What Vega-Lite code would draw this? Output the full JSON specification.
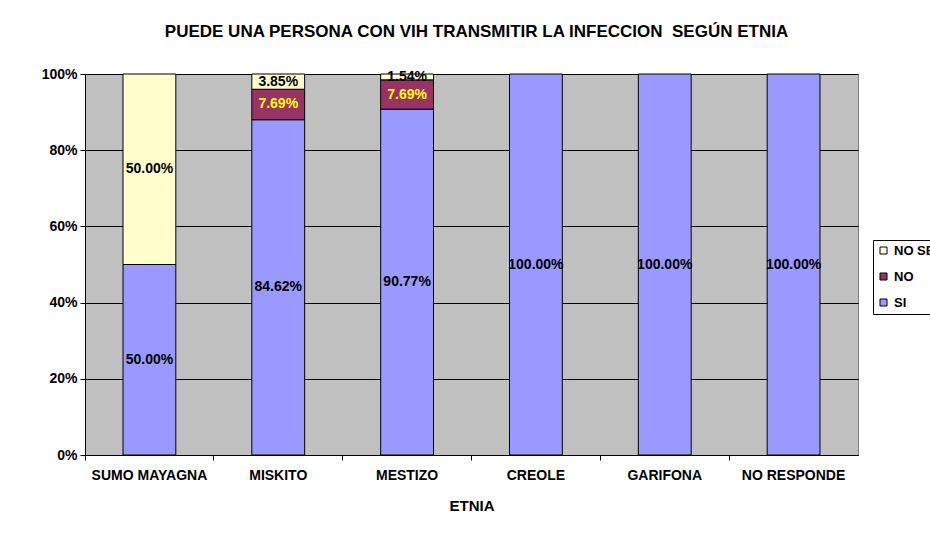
{
  "$schema": "https://vega.github.io/schema/vega-lite/v6.json",
  "width": 773,
  "height": 381,
  "autosize": "none",
  "padding": {"left": 85, "top": 74, "right": 72, "bottom": 79},
  "background": "white",
  "title": {
    "text": "PUEDE UNA PERSONA CON VIH TRANSMITIR LA INFECCION\u00a0 SEGÚN ETNIA",
    "font": "Liberation Sans",
    "fontSize": 17,
    "fontWeight": "bold",
    "color": "black",
    "offset": 26,
    "dx": 5
  },
  "config": {
    "view": {"stroke": "#808080", "fill": "#C0C0C0"},
    "font": "Liberation Sans"
  },
  "data": {
    "values": [
      {"etnia": "SUMO MAYAGNA", "serie": "SI", "k": 1, "valor": 0.5},
      {"etnia": "SUMO MAYAGNA", "serie": "NO SE", "k": 3, "valor": 0.5},
      {"etnia": "MISKITO", "serie": "SI", "k": 1, "valor": 0.8462},
      {"etnia": "MISKITO", "serie": "NO", "k": 2, "valor": 0.0769},
      {"etnia": "MISKITO", "serie": "NO SE", "k": 3, "valor": 0.0385},
      {"etnia": "MESTIZO", "serie": "SI", "k": 1, "valor": 0.9077},
      {"etnia": "MESTIZO", "serie": "NO", "k": 2, "valor": 0.0769},
      {"etnia": "MESTIZO", "serie": "NO SE", "k": 3, "valor": 0.0154},
      {"etnia": "CREOLE", "serie": "SI", "k": 1, "valor": 1.0},
      {"etnia": "GARIFONA", "serie": "SI", "k": 1, "valor": 1.0},
      {"etnia": "NO RESPONDE", "serie": "SI", "k": 1, "valor": 1.0}
    ]
  },
  "encoding": {
    "x": {
      "field": "etnia",
      "type": "nominal",
      "sort": ["SUMO MAYAGNA", "MISKITO", "MESTIZO", "CREOLE", "GARIFONA", "NO RESPONDE"],
      "scale": {"paddingInner": 0, "paddingOuter": 0},
      "axis": {
        "title": "ETNIA",
        "labelAngle": 0,
        "labelFont": "Liberation Sans",
        "labelFontSize": 14,
        "labelFontWeight": "bold",
        "labelColor": "black",
        "labelPadding": 8,
        "titleFont": "Liberation Sans",
        "titleFontSize": 15,
        "titleFontWeight": "bold",
        "titleColor": "black",
        "titlePadding": 16,
        "domainColor": "black",
        "tickColor": "black",
        "tickSize": 5,
        "bandPosition": 0
      }
    },
    "y": {
      "field": "valor",
      "type": "quantitative",
      "stack": "normalize",
      "scale": {"domain": [0, 1]},
      "axis": {
        "title": null,
        "values": [0, 0.2, 0.4, 0.6, 0.8, 1],
        "format": ".0%",
        "labelFont": "Liberation Sans",
        "labelFontSize": 14,
        "labelFontWeight": "bold",
        "labelColor": "black",
        "labelPadding": 3,
        "grid": true,
        "gridColor": "black",
        "gridOpacity": 1,
        "domainColor": "black",
        "tickColor": "black",
        "tickSize": 5
      }
    },
    "order": {"field": "k", "type": "quantitative"}
  },
  "layer": [
    {
      "mark": {"type": "bar", "width": {"band": 0.41}, "stroke": "black", "strokeWidth": 1},
      "encoding": {
        "color": {
          "field": "serie",
          "type": "nominal",
          "scale": {"domain": ["NO SE", "NO", "SI"], "range": ["#FFFFCC", "#993366", "#9999FF"]},
          "legend": {
            "title": null,
            "orient": "none",
            "legendX": 788,
            "legendY": 166,
            "symbolType": "square",
            "symbolSize": 49,
            "symbolStrokeColor": "black",
            "symbolStrokeWidth": 1,
            "labelFont": "Liberation Sans",
            "labelFontSize": 13,
            "labelFontWeight": "bold",
            "labelColor": "black",
            "labelOffset": 4,
            "rowPadding": 12,
            "padding": 4,
            "strokeColor": "black",
            "fillColor": "white",
            "labelLimit": 200
          }
        }
      }
    },
    {
      "mark": {"type": "text", "font": "Liberation Sans", "fontSize": 14, "fontWeight": "bold", "baseline": "middle"},
      "encoding": {
        "y": {"field": "valor", "type": "quantitative", "stack": "normalize", "bandPosition": 0.5},
        "text": {"field": "valor", "type": "quantitative", "format": ".2%"},
        "color": {
          "condition": {"test": "datum.serie === 'NO'", "value": "#FFFF00"},
          "value": "black"
        }
      }
    }
  ]
}
